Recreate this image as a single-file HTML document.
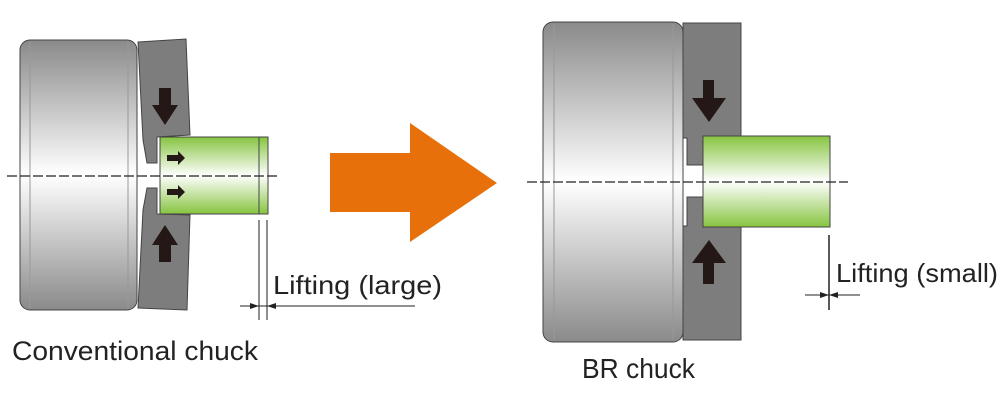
<!DOCTYPE html>
<html><head><meta charset="utf-8"><style>html,body{margin:0;padding:0;background:#fff;}svg{display:block}</style></head>
<body>
<svg width="1001" height="400" viewBox="0 0 1001 400" xmlns="http://www.w3.org/2000/svg">
<defs>
<linearGradient id="body1" x1="0" y1="40" x2="0" y2="310" gradientUnits="userSpaceOnUse">
<stop offset="0" stop-color="#8a8a8a"/><stop offset="0.5" stop-color="#ffffff"/><stop offset="1" stop-color="#8a8a8a"/></linearGradient>
<linearGradient id="body2" x1="0" y1="22" x2="0" y2="342" gradientUnits="userSpaceOnUse">
<stop offset="0" stop-color="#8a8a8a"/><stop offset="0.5" stop-color="#ffffff"/><stop offset="1" stop-color="#8a8a8a"/></linearGradient>
<linearGradient id="g1" x1="0" y1="137" x2="0" y2="214" gradientUnits="userSpaceOnUse">
<stop offset="0" stop-color="#86c440"/><stop offset="0.5" stop-color="#ffffff"/><stop offset="1" stop-color="#86c440"/></linearGradient>
<linearGradient id="g2" x1="0" y1="136" x2="0" y2="227" gradientUnits="userSpaceOnUse">
<stop offset="0" stop-color="#86c440"/><stop offset="0.5" stop-color="#ffffff"/><stop offset="1" stop-color="#86c440"/></linearGradient>
</defs>
<g stroke="#444" stroke-width="1">
<rect x="20" y="40" width="117" height="270" rx="10" fill="url(#body1)"/>
<line x1="30" y1="42" x2="30" y2="308" stroke="#999"/>
<line x1="128" y1="42" x2="128" y2="308" stroke="#999"/>
<polygon points="138,42 186,39 190,135 157,137 157,163 147,163 143,140" fill="#7d7d7d"/>
<polygon points="143,210 147,188 157,188 157,214 190,215 187,310 138,308" fill="#7d7d7d"/>
<rect x="160" y="137" width="108" height="77" fill="url(#g1)"/>
<line x1="259" y1="137" x2="259" y2="214"/>
</g>
<g fill="#231815">
<polygon points="159,88 171,88 171,105 178,105 165,125 152,105 159,105"/>
<polygon points="159,262 171,262 171,245 178,245 165,225 152,245 159,245"/>
<polygon points="167,155 178,155 178,151 185,158 178,165 178,161 167,161"/>
<polygon points="167,189 178,189 178,185 185,192 178,199 178,195 167,195"/>
</g>
<line x1="7" y1="176" x2="277" y2="176" stroke="#222" stroke-width="1.2" stroke-dasharray="10,3"/>
<g stroke="#222" stroke-width="1">
<line x1="259" y1="220" x2="259" y2="320"/><line x1="267" y1="220" x2="267" y2="320"/>
<line x1="240" y1="306" x2="415" y2="306"/>
</g>
<polygon points="259,306 250,303 250,309" fill="#222"/><polygon points="267,306 276,303 276,309" fill="#222"/>
<text x="273" y="294" font-family="Liberation Sans, sans-serif" font-size="26" fill="#222" textLength="169" lengthAdjust="spacingAndGlyphs">Lifting (large)</text>
<text x="12" y="360" font-family="Liberation Sans, sans-serif" font-size="27" fill="#222" textLength="246" lengthAdjust="spacingAndGlyphs">Conventional chuck</text>
<polygon points="330,153 410,153 410,123 497,183 410,242 410,212 330,212" fill="#e8700a"/>
<g stroke="#444" stroke-width="1">
<rect x="543" y="22" width="140" height="320" rx="10" fill="url(#body2)"/>
<line x1="554" y1="24" x2="554" y2="340" stroke="#999"/>
<line x1="673" y1="24" x2="673" y2="340" stroke="#999"/>
<polygon points="683,23 741,23 741,136 703,136 703,165 687,165 687,138 683,138" fill="#7d7d7d"/>
<polygon points="683,226 687,226 687,197 703,197 703,227 741,227 741,340 683,340" fill="#7d7d7d"/>
<rect x="703" y="136" width="127" height="91" fill="url(#g2)"/>
</g>
<g fill="#231815">
<polygon points="703,80 714,80 714,98 726,98 709,122 692,98 703,98"/>
<polygon points="703,284 714,284 714,263 726,263 709,240 692,263 703,263"/>
</g>
<line x1="527" y1="182" x2="848" y2="182" stroke="#222" stroke-width="1.2" stroke-dasharray="10,3"/>
<g stroke="#222" stroke-width="1">
<line x1="829" y1="235" x2="829" y2="310" stroke-width="1.5"/>
<line x1="805" y1="295" x2="860" y2="295"/>
</g>
<polygon points="829,295 820,292 820,298" fill="#222"/><polygon points="829,295 838,292 838,298" fill="#222"/>
<text x="836" y="282" font-family="Liberation Sans, sans-serif" font-size="26" fill="#222" textLength="162" lengthAdjust="spacingAndGlyphs">Lifting (small)</text>
<text x="582" y="378" font-family="Liberation Sans, sans-serif" font-size="28" fill="#222" textLength="113" lengthAdjust="spacingAndGlyphs">BR chuck</text>
</svg>
</body></html>
